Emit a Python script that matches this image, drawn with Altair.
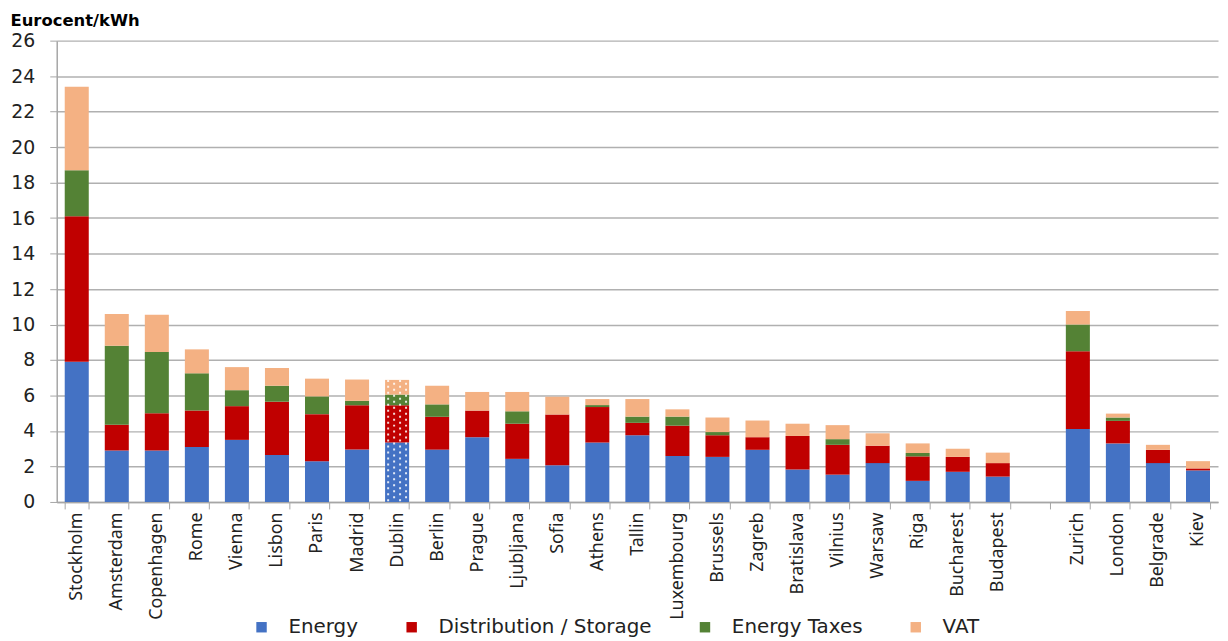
import altair as alt
import pandas as pd

cities = ["Stockholm", "Amsterdam", "Copenhagen", "Rome", "Vienna", "Lisbon", "Paris",
          "Madrid", "Dublin", "Berlin", "Prague", "Ljubljana", "Sofia", "Athens", "Tallin",
          "Luxembourg", "Brussels", "Zagreb", "Bratislava", "Vilnius", "Warsaw", "Riga",
          "Bucharest", "Budapest", "Zurich", "London", "Belgrade", "Kiev"]
energy = [7.9, 2.9, 2.9, 3.1, 3.5, 2.65, 2.3, 2.95, 3.35, 2.95, 3.65, 2.43, 2.07, 3.35, 3.76,
          2.59, 2.54, 2.94, 1.83, 1.54, 2.19, 1.19, 1.7, 1.43, 4.11, 3.3, 2.19, 1.78]
distribution = [8.2, 1.45, 2.1, 2.05, 1.9, 3.0, 2.65, 2.5, 2.1, 1.85, 1.5, 1.98, 2.86, 2.0, 0.7,
                1.71, 1.22, 0.71, 1.89, 1.68, 0.98, 1.38, 0.84, 0.76, 4.39, 1.27, 0.75, 0.11]
energy_taxes = [2.6, 4.45, 3.45, 2.1, 0.9, 0.9, 1.0, 0.25, 0.6, 0.7, 0.0, 0.7, 0.0, 0.11, 0.35,
                0.51, 0.18, 0.0, 0.0, 0.32, 0.0, 0.19, 0.0, 0.0, 1.5, 0.19, 0.0, 0.0]
vat = [4.7, 1.8, 2.1, 1.35, 1.3, 1.0, 1.0, 1.2, 0.83, 1.05, 1.05, 1.09, 1.0, 0.34, 0.99,
       0.41, 0.82, 0.94, 0.69, 0.79, 0.7, 0.54, 0.46, 0.59, 0.76, 0.22, 0.28, 0.41]
components = ["Energy", "Distribution / Storage", "Energy Taxes", "VAT"]
colors = ["#4472C4", "#C00000", "#548235", "#F4B183"]
gap_after = "Budapest"
hatched = ["Dublin"]
y_ticks = list(range(0, 27, 2))

gi = cities.index(gap_after) + 1
x_domain = cities[:gi] + [" "] + cities[gi:]

rows = []
for i, c in enumerate(cities):
    for k, arr in enumerate([energy, distribution, energy_taxes, vat]):
        if arr[i] > 0:
            rows.append({"city": c, "component": components[k], "value": arr[i], "order": k})
df = pd.DataFrame(rows)

tot = [{"city": c, "value": energy[i] + distribution[i] + energy_taxes[i] + vat[i]}
       for i, c in enumerate(cities) if c in hatched]
df_h = pd.DataFrame(tot)

xscale = alt.Scale(domain=x_domain, paddingInner=0.4, paddingOuter=0.2)
yscale = alt.Scale(domain=[0, 26], nice=False)

xaxis = alt.Axis(title=None, labelAngle=-90, labelFont="Noto Sans", labelFontSize=18,
                 labelColor="#222222", tickBand="extent", tickSize=7, tickColor="#a6a6a6",
                 domainColor="#a6a6a6", domainWidth=1.5, labelPadding=3, grid=False,
                 labelLimit=200)
yaxis = alt.Axis(values=y_ticks, title="Eurocent/kWh", titleAngle=0, titleAlign="left",
                 titleX=-47, titleY=-15, titleFont="DejaVu Sans", titleFontSize=16.5,
                 titleFontWeight="bold", titleBaseline="alphabetic", titleColor="#000000",
                 labelFont="DejaVu Sans", labelFontSize=19, labelColor="#222222",
                 labelPadding=15, tickSize=7, tickColor="#a6a6a6", gridColor="#b0b0b0",
                 gridWidth=1.5, domainColor="#a6a6a6", domainWidth=1.5)

bars = alt.Chart(df).mark_bar().encode(
    x=alt.X("city:N", scale=xscale, sort=x_domain, axis=xaxis),
    y=alt.Y("value:Q", stack="zero", scale=yscale, axis=yaxis),
    color=alt.Color("component:N", scale=alt.Scale(domain=components, range=colors),
                    legend=alt.Legend(orient="none", legendX=196, legendY=580,
                                      direction="horizontal", title=None, symbolType="square",
                                      symbolSize=110, labelFontSize=20, labelFont="DejaVu Sans",
                                      labelColor="#222222", labelOffset=17, columnPadding=43,
                                      padding=0, symbolStrokeWidth=0, labelLimit=400)),
    order=alt.Order("order:Q", sort="ascending"),
)

layers = [bars]
for j, off in enumerate([-9, -3, 3, 9]):
    layers.append(
        alt.Chart(df_h).mark_rule(color="white", strokeWidth=2, strokeDash=[2, 4],
                                  strokeDashOffset=(3 if j % 2 else 0), xOffset=off,
                                  opacity=0.85).encode(
            x=alt.X("city:N", scale=xscale, sort=x_domain, axis=xaxis),
            y=alt.Y("value:Q", scale=yscale, axis=yaxis),
            y2=alt.datum(0),
        )
    )

chart = alt.layer(*layers).properties(
    width=1168, height=464,
    autosize=alt.AutoSizeParams(type="none"),
    padding={"left": 49, "top": 31, "right": 2, "bottom": 135},
).configure_view(stroke=None)

chart.save("out.html", embed_options={"renderer": "svg", "actions": False})
